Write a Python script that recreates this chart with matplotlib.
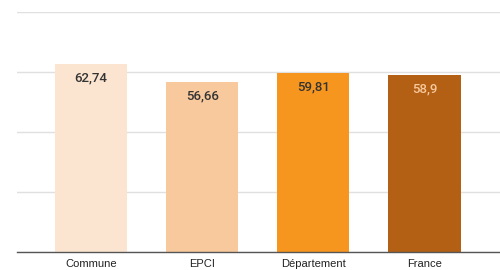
import matplotlib
matplotlib.use("Agg")
import matplotlib.pyplot as plt

categories = ["Commune", "EPCI", "Département", "France"]
values = [62.74, 56.66, 59.81, 58.9]
value_labels = ["62,74", "56,66", "59,81", "58,9"]
colors = ["#FBE5D1", "#F7C99C", "#F7961E", "#B35F14"]
label_colors = ["#333333", "#333333", "#333333", "#F7C99C"]

fig = plt.figure(figsize=(5, 2.7), dpi=100)
ax = fig.add_axes([0.034, 0.0667, 0.966, 0.8889])
x = list(range(len(categories)))
bars = ax.bar(x, values, width=0.65, color=colors, zorder=2)
ax.set_ylim(0, 80)
ax.set_xlim(-0.667, 3.68)
ax.set_yticks([0, 20, 40, 60, 80])
ax.yaxis.grid(True, color="#e0e0e0", linewidth=1, zorder=0)
ax.tick_params(axis="y", left=False, labelleft=False)
ax.tick_params(axis="x", length=0, pad=5)
ax.set_xticks(x)
ax.set_xticklabels(categories, fontsize=8, family="Liberation Sans", color="#222222")
for s in ["top", "right", "left"]:
    ax.spines[s].set_visible(False)
ax.spines["bottom"].set_color("#555555")
ax.spines["bottom"].set_linewidth(1)
ax.spines["bottom"].set_zorder(3)
for xi, v, lab, c in zip(x, values, value_labels, label_colors):
    ax.annotate(lab, (xi, v), xytext=(0, -14), textcoords="offset pixels",
                ha="center", va="center", fontsize=9.5, family="Roboto",
                fontweight="medium", color=c, zorder=4)
fig.savefig("out.png", dpi=100)
